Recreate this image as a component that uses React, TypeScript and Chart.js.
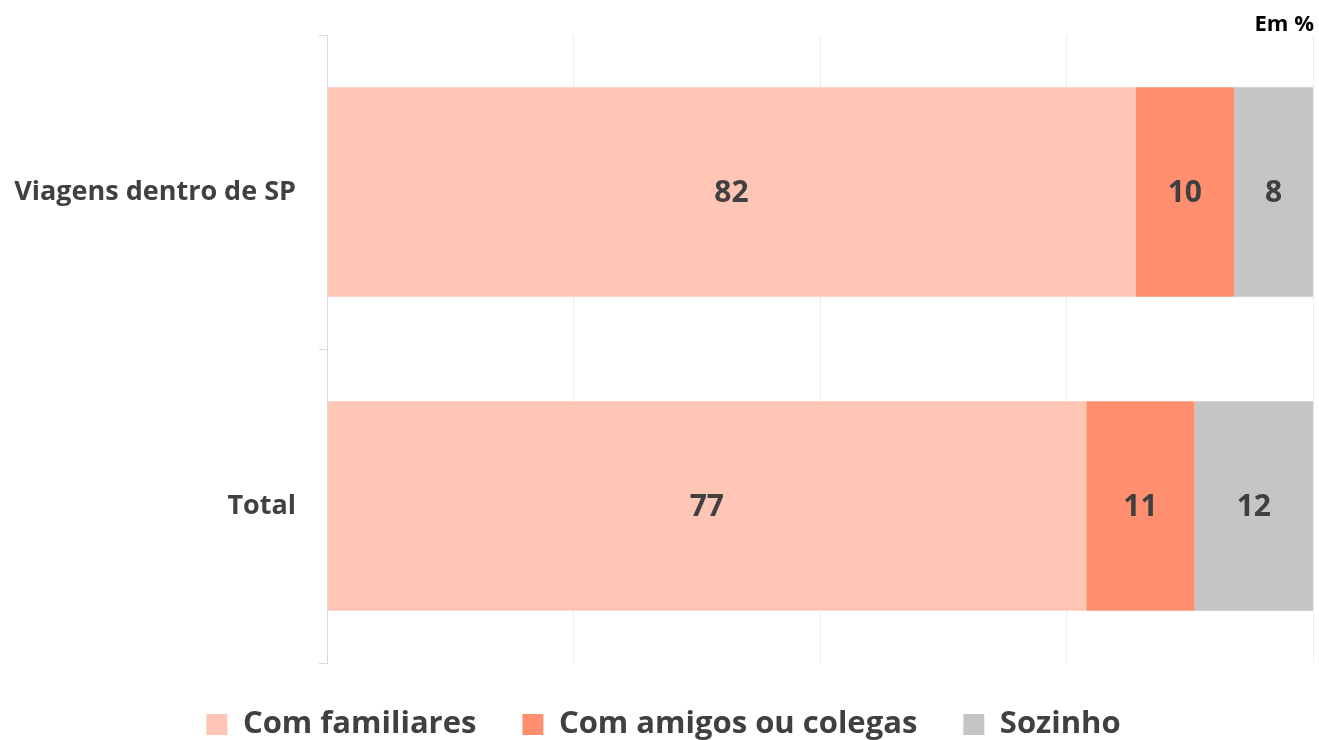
import React, { useEffect, useRef } from "react";
import { Chart, registerables } from "chart.js";

Chart.register(...registerables);

const categories = ["Viagens dentro de SP", "Total"];
const seriesNames = ["Com familiares", "Com amigos ou colegas", "Sozinho"];
const familiares = [82, 77];
const amigos = [10, 11];
const sozinho = [8, 12];
const seriesColors = ["#FFC5B5", "#FF8F6F", "#C5C5C5"];
const unitLabel = "Em %";
const xMax = 100;
const xStep = 25;

const FONT = "'Open Sans', sans-serif";

const dataLabelPlugin = {
  id: "dataLabels",
  afterDatasetsDraw(chart: any) {
    const ctx = chart.ctx;
    ctx.save();
    ctx.font = `bold 30px ${FONT}`;
    ctx.fillStyle = "#404040";
    ctx.textAlign = "center";
    ctx.textBaseline = "middle";
    chart.data.datasets.forEach((ds: any, i: number) => {
      const meta = chart.getDatasetMeta(i);
      if (meta.hidden) return;
      meta.data.forEach((bar: any, j: number) => {
        const { x, y, base } = bar.getProps(["x", "y", "base"], true);
        ctx.fillText(String(ds.data[j]), (x + base) / 2, y + 1);
      });
    });
    ctx.restore();
  },
};

const unitPlugin = {
  id: "unitLabel",
  afterDraw(chart: any) {
    const ctx = chart.ctx;
    ctx.save();
    ctx.font = `bold 22px ${FONT}`;
    ctx.fillStyle = "#000000";
    ctx.textAlign = "right";
    ctx.textBaseline = "alphabetic";
    ctx.fillText(unitLabel, chart.chartArea.right + 1, 31);
    ctx.restore();
  },
};

export default function App() {
  const ref = useRef<HTMLCanvasElement>(null);
  useEffect(() => {
    if (!ref.current) return;
    const datasets = [familiares, amigos, sozinho].map((d, i) => ({
      label: seriesNames[i],
      data: d,
      backgroundColor: seriesColors[i],
      borderWidth: 0,
      categoryPercentage: 1,
      barPercentage: 0.667,
    }));
    const chart = new Chart(ref.current, {
      type: "bar",
      data: { labels: categories, datasets },
      plugins: [dataLabelPlugin, unitPlugin],
      options: {
        indexAxis: "y",
        animation: false,
        responsive: true,
        maintainAspectRatio: false,
        layout: { padding: { top: 35, right: 6, left: 14, bottom: 0 } },
        plugins: {
          tooltip: { enabled: false },
          legend: {
            position: "bottom",
            maxHeight: 77,
            labels: {
              boxWidth: 21,
              boxHeight: 21,
              padding: 46,
              color: "#404040",
              font: { family: FONT, size: 31, weight: "bold" },
            },
          },
        },
        scales: {
          x: {
            stacked: true,
            min: 0,
            max: xMax,
            ticks: { display: false, stepSize: xStep },
            grid: { color: "#EDEDED", drawTicks: false, lineWidth: 1 },
            border: { display: false },
            afterFit(scale: any) {
              scale.height = 0;
              scale.paddingLeft = 0;
              scale.paddingRight = 0;
            },
          },
          y: {
            stacked: true,
            ticks: {
              color: "#404040",
              padding: 23,
              font: { family: FONT, size: 27, weight: "bold" },
            },
            grid: {
              drawOnChartArea: false,
              drawTicks: true,
              tickLength: 8,
              color: "#D9D9D9",
              offset: true,
            },
            border: { display: true, color: "#D9D9D9", width: 1 },
            afterFit(scale: any) {
              scale.width = 313;
              scale.paddingTop = 0;
              scale.paddingBottom = 0;
            },
          },
        },
      },
    });
    return () => chart.destroy();
  }, []);
  return (
    <div style={{ position: "fixed", left: 0, top: 0, width: 1319, height: 740, background: "#fff" }}>
      <canvas ref={ref} />
    </div>
  );
}
